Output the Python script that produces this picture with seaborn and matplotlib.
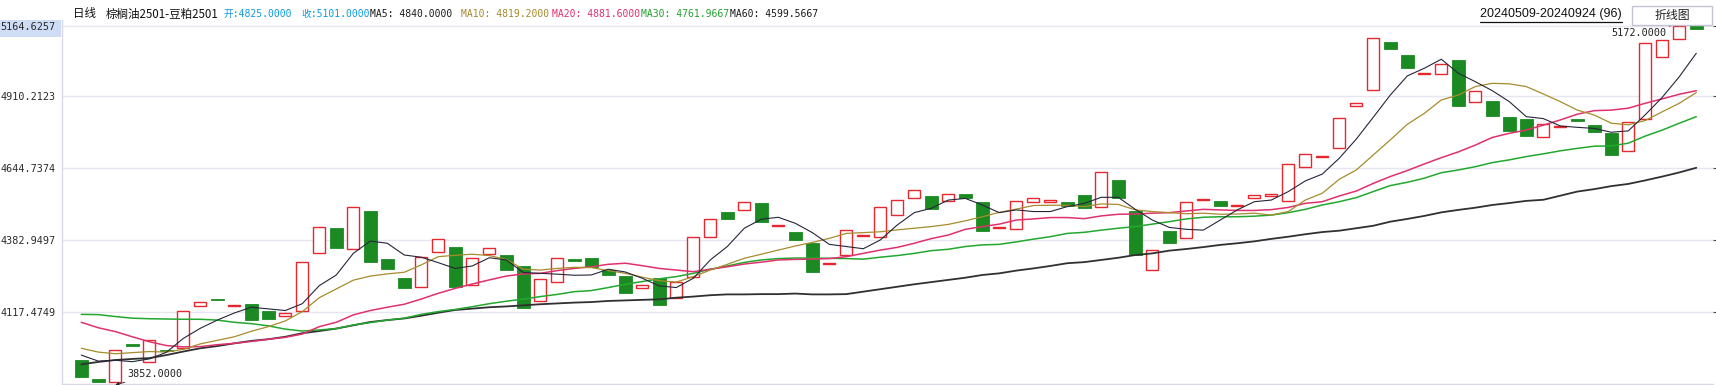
import numpy as np
import pandas as pd
import matplotlib
matplotlib.use("Agg")
import matplotlib.pyplot as plt
from matplotlib.patches import Rectangle
from matplotlib.lines import Line2D
import seaborn as sns

# --- data (spread: 棕榈油2501-豆粕2501, 20240509-20240924, 96 bars) ---
opens = [3943, 3874, 3861, 4000, 3935, 3981, 3986, 4139, 4167, 4142,
         4148, 4122, 4105, 4121, 4333, 4426, 4348, 4488, 4312, 4243,
         4209, 4337, 4356, 4216, 4330, 4327, 4287, 4158, 4227, 4311,
         4316, 4272, 4250, 4205, 4242, 4169, 4245, 4392, 4484, 4490,
         4517, 4434, 4411, 4372, 4295, 4326, 4397, 4392, 4472, 4534,
         4543, 4526, 4550, 4521, 4427, 4421, 4520, 4520, 4521, 4547,
         4501, 4601, 4488, 4271, 4415, 4388, 4529, 4525, 4507, 4534,
         4544, 4523, 4648, 4687, 4717, 4871, 4929, 5106, 5059, 4988,
         4988, 5040, 4885, 4890, 4832, 4825, 4757, 4795, 4826, 4803,
         4773, 4706, 4825, 5050, 5116, 5163]
closes = [3882, 3864, 3979, 3996, 4015, 3977, 4121, 4156, 4163, 4145,
          4091, 4094, 4114, 4300, 4428, 4354, 4501, 4303, 4277, 4208,
          4319, 4384, 4210, 4315, 4351, 4273, 4135, 4238, 4315, 4304,
          4282, 4255, 4189, 4216, 4144, 4227, 4392, 4458, 4459, 4520,
          4449, 4437, 4382, 4265, 4298, 4417, 4400, 4501, 4527, 4564,
          4495, 4549, 4536, 4416, 4430, 4523, 4534, 4527, 4508, 4500,
          4629, 4537, 4328, 4345, 4372, 4520, 4532, 4508, 4510, 4545,
          4550, 4659, 4695, 4690, 4827, 4882, 5120, 5082, 5012, 4991,
          5024, 4873, 4926, 4837, 4781, 4764, 4805, 4798, 4818, 4778,
          4694, 4812, 5101, 5112, 5165, 5155]

ma5 = [3961, 3939, 3942, 3937, 3947, 3971, 4022, 4059, 4089, 4115,
       4136, 4130, 4124, 4149, 4215, 4254, 4333, 4378, 4370, 4327,
       4319, 4299, 4278, 4287, 4317, 4309, 4263, 4260, 4257, 4253,
       4254, 4275, 4265, 4242, 4214, 4208, 4242, 4309, 4358, 4425,
       4458, 4465, 4443, 4409, 4366, 4358, 4350, 4382, 4437, 4482,
       4498, 4528, 4534, 4510, 4482, 4492, 4486, 4486, 4504, 4516,
       4538, 4538, 4494, 4455, 4428, 4421, 4418, 4455, 4492, 4522,
       4528, 4559, 4598, 4623, 4681, 4751, 4831, 4912, 4982, 5010,
       5043, 4992, 4961, 4928, 4888, 4833, 4826, 4799, 4794, 4790,
       4776, 4781, 4840, 4904, 4979, 5065]
ma10 = [3986, 3972, 3966, 3970, 3974, 3972, 3982, 4002, 4015, 4028,
        4048, 4065, 4086, 4120, 4171, 4203, 4235, 4250, 4258, 4264,
        4291, 4321, 4326, 4330, 4325, 4311, 4275, 4272, 4278, 4282,
        4281, 4270, 4260, 4246, 4233, 4228, 4248, 4272, 4293, 4315,
        4330, 4345, 4360, 4373, 4388, 4406, 4409, 4412, 4419, 4425,
        4431, 4439, 4452, 4467, 4483, 4495, 4508, 4509, 4509, 4504,
        4514, 4512, 4492, 4486, 4482, 4478, 4480, 4476, 4477, 4480,
        4473, 4486, 4528, 4553, 4604, 4638, 4693, 4748, 4805, 4845,
        4894, 4912, 4943, 4955, 4953, 4943, 4916, 4888, 4857, 4839,
        4809, 4803, 4819, 4851, 4882, 4921]
ma20 = [4081, 4061, 4047, 4028, 4010, 3996, 3991, 3992, 3999, 4004,
        4011, 4019, 4026, 4038, 4065, 4081, 4108, 4124, 4136, 4147,
        4166, 4187, 4205, 4221, 4236, 4250, 4258, 4260, 4270, 4278,
        4284, 4293, 4297, 4288, 4278, 4272, 4266, 4275, 4284, 4294,
        4301, 4309, 4311, 4312, 4314, 4321, 4333, 4345, 4355, 4370,
        4387, 4400, 4421, 4431, 4440, 4455, 4459, 4464, 4464, 4460,
        4470, 4476, 4477, 4480, 4482, 4488, 4494, 4492, 4490, 4490,
        4493, 4501, 4516, 4522, 4543, 4561, 4589, 4614, 4636, 4660,
        4683, 4704, 4729, 4757, 4772, 4784, 4802, 4821, 4842, 4855,
        4857, 4864, 4882, 4898, 4915, 4928]
ma30 = [4110, 4109, 4102, 4096, 4094, 4093, 4092, 4092, 4089, 4081,
        4076, 4068, 4056, 4049, 4053, 4058, 4071, 4080, 4089, 4096,
        4110, 4120, 4128, 4138, 4149, 4158, 4166, 4175, 4183, 4193,
        4197, 4208, 4220, 4230, 4240, 4248, 4260, 4275, 4287, 4300,
        4309, 4314, 4316, 4316, 4315, 4314, 4312, 4319, 4325, 4333,
        4343, 4348, 4358, 4364, 4366, 4375, 4385, 4394, 4406, 4410,
        4418, 4425, 4431, 4440, 4449, 4459, 4465, 4467, 4467, 4469,
        4473, 4482, 4494, 4510, 4522, 4537, 4559, 4581, 4593, 4608,
        4628, 4638, 4650, 4665, 4675, 4687, 4697, 4708, 4717, 4725,
        4726, 4736, 4762, 4784, 4809, 4833]
ma60 = [3927, 3936, 3943, 3947, 3950, 3961, 3974, 3986, 3994, 4004,
        4013, 4019, 4028, 4041, 4049, 4058, 4070, 4082, 4089, 4095,
        4105, 4116, 4126, 4131, 4136, 4139, 4143, 4147, 4150, 4153,
        4155, 4159, 4161, 4163, 4165, 4171, 4175, 4180, 4183, 4183,
        4184, 4184, 4186, 4183, 4183, 4184, 4193, 4202, 4211, 4220,
        4228, 4236, 4244, 4254, 4260, 4270, 4278, 4287, 4297, 4301,
        4309, 4317, 4327, 4333, 4343, 4349, 4356, 4364, 4370, 4377,
        4386, 4394, 4403, 4411, 4416, 4425, 4434, 4449, 4459, 4470,
        4483, 4492, 4500, 4510, 4517, 4525, 4529, 4544, 4559, 4568,
        4579, 4587, 4600, 4614, 4629, 4646]

ytick_vals = [4117.4749, 4382.9497, 4644.7374, 4910.2123, 5164.6257]
ytick_labels = ["4117.4749", "4382.9497", "4644.7374", "4910.2123", "5164.6257"]

low_val, low_idx = 3852, 2
high_val, high_idx = 5172, 94

header_parts = [
    ("日线", "#111111"),
    ("棕榈油2501-豆粕2501", "#111111"),
    ("开:4825.0000", "#0a9be0"),
    ("收:5101.0000", "#0a9be0"),
    ("MA5: 4840.0000", "#1a1a1a"),
    ("MA10: 4819.2000", "#a5892a"),
    ("MA20: 4881.6000", "#e03070"),
    ("MA30: 4761.9667", "#22a02e"),
    ("MA60: 4599.5667", "#1a1a1a"),
]
date_range = "20240509-20240924 (96)"

# --- style ---
RED = "#e8262e"
GREEN = "#1b8a22"
ma_styles = {
    "MA60": ("#303030", 1.3),
    "MA30": ("#22a82e", 1.1),
    "MA20": ("#e0306e", 1.1),
    "MA10": ("#a68c2c", 0.9),
    "MA5": ("#26263a", 0.8),
}

sns.set_style("white")
MONO = ['DejaVu Sans Mono', 'Noto Sans CJK SC']
CJK = ['Noto Sans CJK SC', 'DejaVu Sans']
plt.rcParams['font.family'] = MONO

W, H = 1716, 385
fig = plt.figure(figsize=(W / 100, H / 100), dpi=100)
fig.patch.set_facecolor("white")
ax = fig.add_axes([62 / W, 1 / H, (1713 - 62) / W, 364 / H])

df = pd.DataFrame({"idx": np.arange(len(opens)), "open": opens, "close": closes})
df["lo"] = df[["open", "close"]].min(axis=1)
df["h"] = (df["close"] - df["open"]).abs()
up = df["close"] >= df["open"]

# candle bodies (no wicks on this spread chart)
ax.bar(df.loc[up, "idx"], df.loc[up, "h"], bottom=df.loc[up, "lo"], width=0.72,
       facecolor="white", edgecolor=RED, linewidth=1.0, zorder=2)
ax.bar(df.loc[~up, "idx"], df.loc[~up, "h"], bottom=df.loc[~up, "lo"], width=0.74,
       color=GREEN, edgecolor=GREEN, linewidth=0.6, zorder=2)

# moving averages
ma_df = pd.DataFrame({"idx": df["idx"], "MA5": ma5, "MA10": ma10, "MA20": ma20,
                      "MA30": ma30, "MA60": ma60})
for name, (col, lw) in ma_styles.items():
    sns.lineplot(data=ma_df, x="idx", y=name, color=col, linewidth=lw, ax=ax, zorder=3)

ax.set_xlim(-1.135, -1.135 + (1713 - 62) / 17.0)
ax.set_ylim(3855.3, 5186.5)
ax.set_xticks([])
ax.set_xlabel("")
ax.set_ylabel("")
ax.set_yticks(ytick_vals)
ax.set_yticklabels(ytick_labels)
ax.yaxis.grid(True, color="#e6e6f0", linewidth=1.0)
ax.set_axisbelow(True)
ax.yaxis.set_tick_params(left=False, right=True, length=2.5, color="#444444",
                         labelsize=7.3, labelcolor="#2a2a2a", pad=2)
for s in ["top", "right"]:
    ax.spines[s].set_visible(False)
for s in ["left", "bottom"]:
    ax.spines[s].set_color("#d8d8e6")
    ax.spines[s].set_linewidth(1.0)

# highlighted top label background
fig.patches.append(Rectangle((0, 1 - 37 / H), 61 / W, 17 / H, transform=fig.transFigure,
                             facecolor="#cfdcf5", edgecolor="none", zorder=-1))

# high / low markers
ax.annotate(f"{high_val:.4f}", xy=(high_idx, high_val), xytext=(1666, H - 33),
            textcoords="figure pixels", ha="right", va="center", fontsize=7.3,
            color="#222222", annotation_clip=False,
            arrowprops=dict(arrowstyle="-|>", color="#222222", lw=0.6,
                            mutation_scale=5, shrinkA=0, shrinkB=0))
ax.annotate(f"{low_val:.4f}", xy=(low_idx, low_val), xytext=(127, H - 374),
            textcoords="figure pixels", ha="left", va="center", fontsize=7.3,
            color="#222222", annotation_clip=False,
            arrowprops=dict(arrowstyle="-|>", color="#222222", lw=0.6,
                            mutation_scale=5, shrinkA=0, shrinkB=0))

# header line
header_x = [73, 106, 223, 301, 370, 461, 552, 641, 730]
for (txt, col), x in zip(header_parts, header_x):
    fam = CJK if txt[0] in "日棕" else MONO
    size = 8.3 if fam is CJK else 7.0
    fig.text(x / W, 1 - 14 / H, txt, color=col, fontsize=size, family=fam,
             ha="left", va="center")

fig.text(1480 / W, 1 - 13.5 / H, date_range, color="#111111", fontsize=9.0,
         family=["Liberation Sans"], ha="left", va="center")
fig.add_artist(Line2D([1480 / W, 1622 / W], [1 - 21.5 / H] * 2, color="#111111",
                      linewidth=0.9, transform=fig.transFigure))

fig.patches.append(Rectangle((1632 / W, 1 - 25 / H), 80 / W, 19 / H, transform=fig.transFigure,
                             facecolor="white", edgecolor="#c4c4d6", linewidth=1.0, zorder=5))
fig.text(1672 / W, 1 - 15.5 / H, "折线图", color="#222222", fontsize=8.6, family=CJK,
         ha="center", va="center", zorder=6)

fig.savefig("out.png", dpi=100)
